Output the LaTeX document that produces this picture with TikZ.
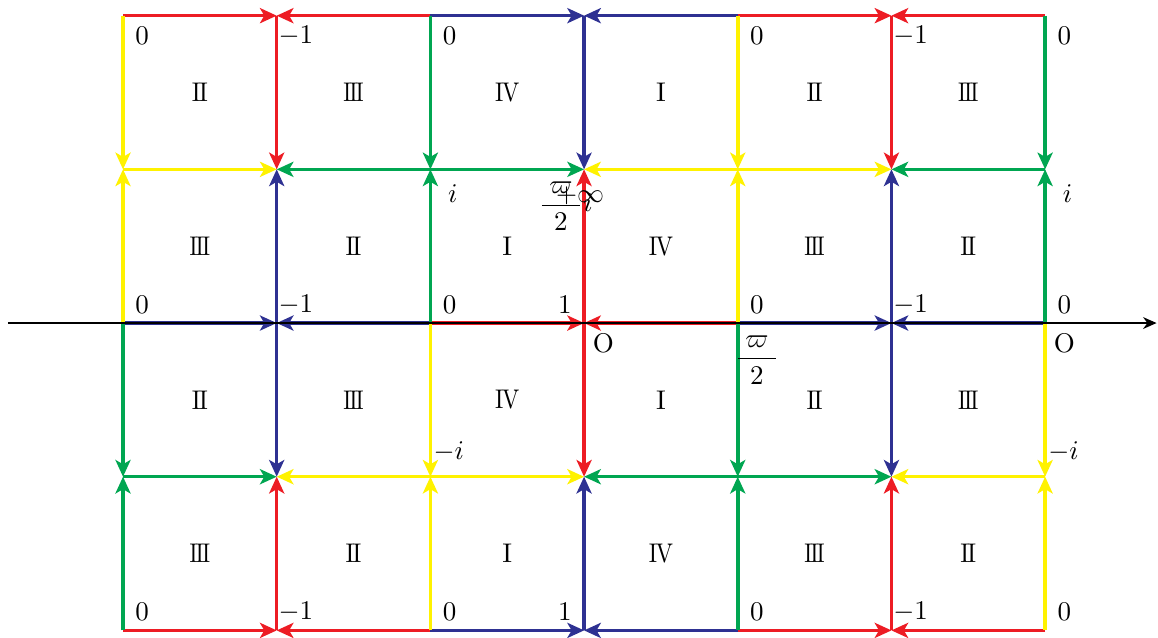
\documentclass[tikz,border=0pt]{standalone}
\usepackage{amsmath,amssymb}
\usepackage{tikz}
\usetikzlibrary{arrows.meta, calc}
\definecolor{mred}{HTML}{ED1C24}
\definecolor{myellow}{HTML}{FFF200}
\definecolor{mgreen}{HTML}{00A651}
\definecolor{mblue}{HTML}{2E3192}
\newcommand{\rI}{I}
\newcommand{\rII}{\scalebox{0.9}[1]{I\kern-.7pt I}}
\newcommand{\rIII}{\scalebox{0.8}[1]{I\kern-.7pt I\kern-.7pt I}}
\newcommand{\rIV}{\scalebox{0.85}[1]{I\kern-.6pt V}}
\tikzset{
  edge/.style={line width=1.3pt, -{Stealth[length=6.2pt, width=5.6pt, inset=1.6pt]}},
  axisline/.style={thin, black, -{Stealth[length=5pt, width=4.4pt]}},
  lbl/.style={inner sep=0pt},
  cellnum/.style={inner sep=0pt},
}

\begin{document}
\begin{tikzpicture}
  \useasboundingbox (-1.601,-4.086) rectangle (13.469,4.204);
  % lưới đỉnh
  \foreach \c in {0,...,6}
    \foreach \r in {0,...,4}
      \coordinate (p-\c-\r) at (2*\c, 2*\r-4);
  % cạnh ngang (mũi tên về cột lẻ)
  \foreach \r/\ca/\cb/\cc/\cd/\ce/\cf in {
      0/mred/mred/mblue/mblue/mred/mred,
      1/mgreen/myellow/myellow/mgreen/mgreen/myellow,
      2/mblue/mblue/mred/mred/mblue/mblue,
      3/myellow/mgreen/mgreen/myellow/myellow/mgreen,
      4/mred/mred/mblue/mblue/mred/mred} {
    \draw[edge, \ca] (p-0-\r) -- (p-1-\r);
    \draw[edge, \cb] (p-2-\r) -- (p-1-\r);
    \draw[edge, \cc] (p-2-\r) -- (p-3-\r);
    \draw[edge, \cd] (p-4-\r) -- (p-3-\r);
    \draw[edge, \ce] (p-4-\r) -- (p-5-\r);
    \draw[edge, \cf] (p-6-\r) -- (p-5-\r);
  }
  % cạnh dọc (mũi tên về hàng lẻ)
  \foreach \c/\ca/\cb/\cc/\cd in {
      0/mgreen/mgreen/myellow/myellow,
      1/mred/mblue/mblue/mred,
      2/myellow/myellow/mgreen/mgreen,
      3/mblue/mred/mred/mblue,
      4/mgreen/mgreen/myellow/myellow,
      5/mred/mblue/mblue/mred,
      6/myellow/myellow/mgreen/mgreen} {
    \draw[edge, \ca] (p-\c-0) -- (p-\c-1);
    \draw[edge, \cb] (p-\c-2) -- (p-\c-1);
    \draw[edge, \cc] (p-\c-2) -- (p-\c-3);
    \draw[edge, \cd] (p-\c-4) -- (p-\c-3);
  }
  % trục thực
  \coordinate (ax-l) at (-1.497,0);
  \coordinate (ax-r) at (13.45,0);
  \draw[axisline] (ax-l) -- (ax-r);
  % số La Mã trong các ô
  \foreach [count=\c from 0] \t in {\rII,\rIII,\rIV,\rI,\rII,\rIII}
    \node[cellnum] (q-\c-3) at (2*\c+1, 3) {\t};
  \foreach [count=\c from 0] \t in {\rIII,\rII,\rI,\rIV,\rIII,\rII}
    \node[cellnum] (q-\c-2) at (2*\c+1, 1) {\t};
  \foreach [count=\c from 0] \t in {\rII,\rIII,\rIV,\rI,\rII,\rIII}
    \node[cellnum] (q-\c-1) at (2*\c+1, -1) {\t};
  \foreach [count=\c from 0] \t in {\rIII,\rII,\rI,\rIV,\rIII,\rII}
    \node[cellnum] (q-\c-0) at (2*\c+1, -3) {\t};
  % nhãn hàng trên
  \foreach \c/\t in {0/0, 1/-1, 2/0, 4/0, 5/-1, 6/0}
    \node[lbl] (t-\c) at ($(p-\c-4)+(0.25,-0.26)$) {$\t$};
  \node[lbl] (i-2) at ($(p-2-3)+(0.29,-0.31)$) {$i$};
  \node[lbl] (i-6) at ($(p-6-3)+(0.29,-0.31)$) {$i$};
  \node[lbl] (w-i) at ($(p-3-3)+(-0.24,-0.48)$) {$\dfrac{\;\varpi\;}{2}i$};
  \node[lbl] (inf) at ($(p-3-3)+(-0.05,-0.34)$) {$+\infty$};
  % nhãn trên trục
  \foreach \c/\t in {0/0, 1/-1, 2/0, 4/0, 5/-1, 6/0}
    \node[lbl] (m-\c) at ($(p-\c-2)+(0.25,0.24)$) {$\t$};
  \node[lbl] (m-3) at ($(p-3-2)+(-0.25,0.24)$) {$1$};
  \node[lbl] (o-3) at ($(p-3-2)+(0.25,-0.26)$) {O};
  \node[lbl] (o-6) at ($(p-6-2)+(0.25,-0.26)$) {O};
  \node[lbl] (w-4) at ($(p-4-2)+(0.25,-0.48)$) {$\dfrac{\;\varpi\;}{2}$};
  \node[lbl] (ni-2) at ($(p-2-1)+(0.24,0.32)$) {$-i$};
  \node[lbl] (ni-6) at ($(p-6-1)+(0.24,0.32)$) {$-i$};
  % nhãn hàng dưới
  \foreach \c/\t in {0/0, 1/-1, 2/0, 4/0, 5/-1, 6/0}
    \node[lbl] (b-\c) at ($(p-\c-0)+(0.25,0.24)$) {$\t$};
  \node[lbl] (b-3) at ($(p-3-0)+(-0.25,0.24)$) {$1$};
\end{tikzpicture}
\end{document}
